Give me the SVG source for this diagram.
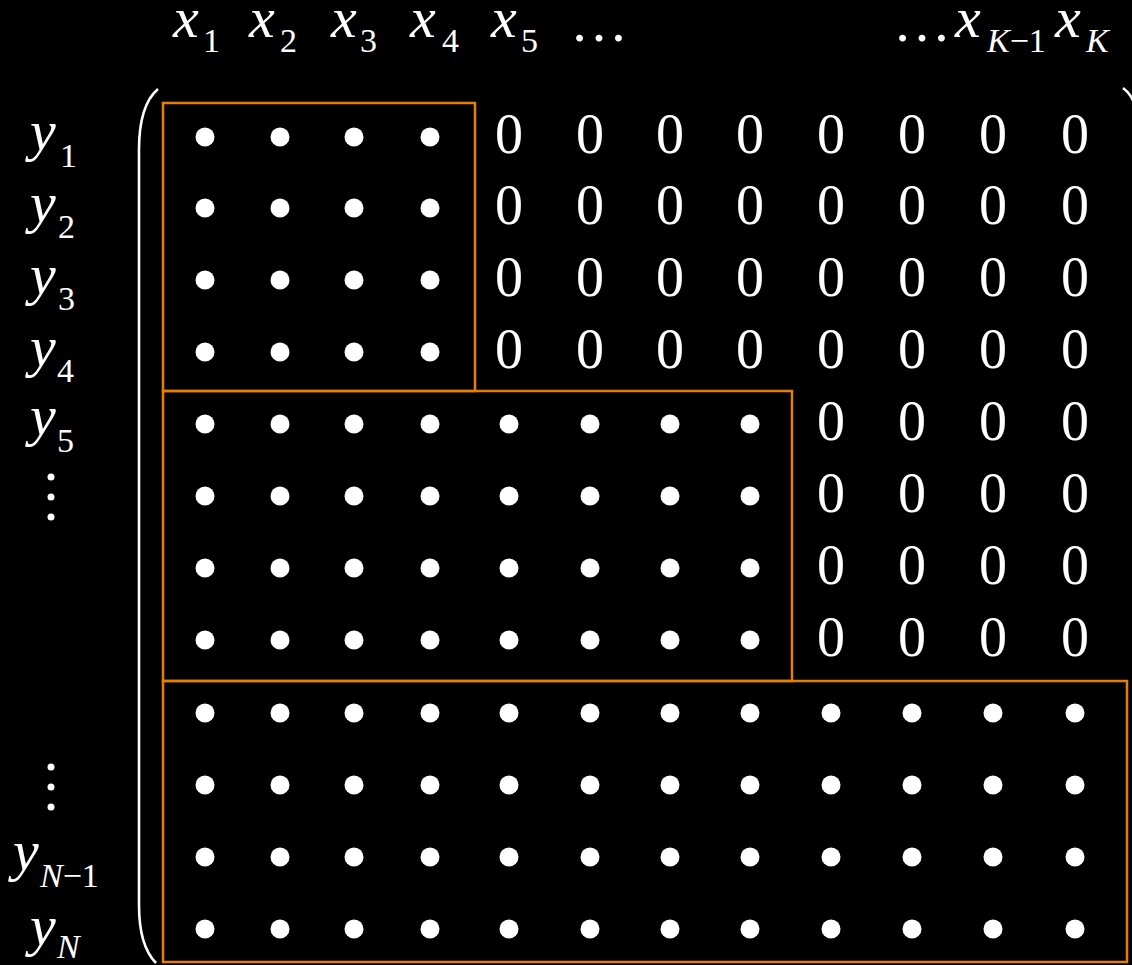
<svg xmlns="http://www.w3.org/2000/svg" width="1132" height="965" viewBox="0 0 1132 965">
<style>
text{font-family:'Liberation Serif','DejaVu Serif',serif;fill:#fff}
.v{font-style:italic;font-size:58px}
.s{font-size:34px}
.si{font-style:italic}
.z{font-size:56px;text-anchor:middle}
.e{font-size:58px}
.box{fill:none;stroke:#e67e00;stroke-width:2.5}
.br{fill:none;stroke:#fff;stroke-width:2.6}
</style>
<defs><circle id="d" r="9.5" fill="#fff"/><circle id="vd" r="3.5" fill="#fff"/></defs>
<rect width="1132" height="965" fill="#000"/>
<g id="col-labels">
<text class="v" x="173" y="37">x</text><text class="s" x="203" y="52">1</text>
<text class="v" x="249" y="37">x</text><text class="s" x="280" y="52">2</text>
<text class="v" x="331" y="37">x</text><text class="s" x="360" y="52">3</text>
<text class="v" x="410" y="37">x</text><text class="s" x="442" y="52">4</text>
<text class="v" x="491" y="37">x</text><text class="s" x="521" y="52">5</text>
<text class="e" x="570" y="41">…</text>
<text class="e" x="893" y="41">…</text>
<text class="v" x="955" y="37">x</text><text class="s" x="987" y="52"><tspan class="si">K</tspan>−1</text>
<text class="v" x="1055" y="37">x</text><text class="s si" x="1086" y="52">K</text>
</g>
<g id="row-labels">
<text class="v" x="30" y="150">y</text><text class="s" x="60" y="167">1</text>
<text class="v" x="30" y="222">y</text><text class="s" x="58" y="238">2</text>
<text class="v" x="30" y="294">y</text><text class="s" x="58" y="310">3</text>
<text class="v" x="30" y="366">y</text><text class="s" x="57" y="382">4</text>
<text class="v" x="30" y="435">y</text><text class="s" x="57" y="452">5</text>
<use href="#vd" x="51" y="477"/><use href="#vd" x="51" y="497"/><use href="#vd" x="51" y="517"/>
<use href="#vd" x="51" y="767"/><use href="#vd" x="51" y="787"/><use href="#vd" x="51" y="807"/>
<text class="v" x="13" y="870">y</text><text class="s" x="40" y="887"><tspan class="si">N</tspan>−1</text>
<text class="v" x="30" y="945">y</text><text class="s si" x="57" y="958">N</text>
</g>
<g id="brackets">
<path class="br" d="M158,89 C145,100 139,120 139,150 L139,905 C139,935 145,952 156,963"/>
<path class="br" d="M1123,88 C1130,93 1134,100 1136,110"/>
</g>
<g id="blocks">
<rect class="box" x="163" y="103" width="312" height="288"/>
<rect class="box" x="163" y="391" width="629" height="290"/>
<rect class="box" x="163" y="681" width="964" height="281"/>
</g>
<g id="cells">
<use href="#d" x="205" y="137"/><use href="#d" x="280" y="137"/><use href="#d" x="354" y="137"/><use href="#d" x="430" y="137"/>
<use href="#d" x="205" y="208"/><use href="#d" x="280" y="208"/><use href="#d" x="354" y="208"/><use href="#d" x="430" y="208"/>
<use href="#d" x="205" y="280"/><use href="#d" x="280" y="280"/><use href="#d" x="354" y="280"/><use href="#d" x="430" y="280"/>
<use href="#d" x="205" y="352"/><use href="#d" x="280" y="352"/><use href="#d" x="354" y="352"/><use href="#d" x="430" y="352"/>
<text class="z" x="509" y="153">0</text><text class="z" x="590" y="153">0</text><text class="z" x="670" y="153">0</text><text class="z" x="750" y="153">0</text><text class="z" x="831" y="153">0</text><text class="z" x="912" y="153">0</text><text class="z" x="993" y="153">0</text><text class="z" x="1075" y="153">0</text>
<text class="z" x="509" y="224">0</text><text class="z" x="590" y="224">0</text><text class="z" x="670" y="224">0</text><text class="z" x="750" y="224">0</text><text class="z" x="831" y="224">0</text><text class="z" x="912" y="224">0</text><text class="z" x="993" y="224">0</text><text class="z" x="1075" y="224">0</text>
<text class="z" x="509" y="296">0</text><text class="z" x="590" y="296">0</text><text class="z" x="670" y="296">0</text><text class="z" x="750" y="296">0</text><text class="z" x="831" y="296">0</text><text class="z" x="912" y="296">0</text><text class="z" x="993" y="296">0</text><text class="z" x="1075" y="296">0</text>
<text class="z" x="509" y="368">0</text><text class="z" x="590" y="368">0</text><text class="z" x="670" y="368">0</text><text class="z" x="750" y="368">0</text><text class="z" x="831" y="368">0</text><text class="z" x="912" y="368">0</text><text class="z" x="993" y="368">0</text><text class="z" x="1075" y="368">0</text>
<use href="#d" x="205" y="424"/><use href="#d" x="280" y="424"/><use href="#d" x="354" y="424"/><use href="#d" x="430" y="424"/><use href="#d" x="509" y="424"/><use href="#d" x="590" y="424"/><use href="#d" x="670" y="424"/><use href="#d" x="750" y="424"/>
<use href="#d" x="205" y="496"/><use href="#d" x="280" y="496"/><use href="#d" x="354" y="496"/><use href="#d" x="430" y="496"/><use href="#d" x="509" y="496"/><use href="#d" x="590" y="496"/><use href="#d" x="670" y="496"/><use href="#d" x="750" y="496"/>
<use href="#d" x="205" y="568"/><use href="#d" x="280" y="568"/><use href="#d" x="354" y="568"/><use href="#d" x="430" y="568"/><use href="#d" x="509" y="568"/><use href="#d" x="590" y="568"/><use href="#d" x="670" y="568"/><use href="#d" x="750" y="568"/>
<use href="#d" x="205" y="640"/><use href="#d" x="280" y="640"/><use href="#d" x="354" y="640"/><use href="#d" x="430" y="640"/><use href="#d" x="509" y="640"/><use href="#d" x="590" y="640"/><use href="#d" x="670" y="640"/><use href="#d" x="750" y="640"/>
<text class="z" x="831" y="440">0</text><text class="z" x="912" y="440">0</text><text class="z" x="993" y="440">0</text><text class="z" x="1075" y="440">0</text>
<text class="z" x="831" y="512">0</text><text class="z" x="912" y="512">0</text><text class="z" x="993" y="512">0</text><text class="z" x="1075" y="512">0</text>
<text class="z" x="831" y="584">0</text><text class="z" x="912" y="584">0</text><text class="z" x="993" y="584">0</text><text class="z" x="1075" y="584">0</text>
<text class="z" x="831" y="656">0</text><text class="z" x="912" y="656">0</text><text class="z" x="993" y="656">0</text><text class="z" x="1075" y="656">0</text>
<use href="#d" x="205" y="713"/><use href="#d" x="280" y="713"/><use href="#d" x="354" y="713"/><use href="#d" x="430" y="713"/><use href="#d" x="509" y="713"/><use href="#d" x="590" y="713"/><use href="#d" x="670" y="713"/><use href="#d" x="750" y="713"/><use href="#d" x="831" y="713"/><use href="#d" x="912" y="713"/><use href="#d" x="993" y="713"/><use href="#d" x="1075" y="713"/>
<use href="#d" x="205" y="785"/><use href="#d" x="280" y="785"/><use href="#d" x="354" y="785"/><use href="#d" x="430" y="785"/><use href="#d" x="509" y="785"/><use href="#d" x="590" y="785"/><use href="#d" x="670" y="785"/><use href="#d" x="750" y="785"/><use href="#d" x="831" y="785"/><use href="#d" x="912" y="785"/><use href="#d" x="993" y="785"/><use href="#d" x="1075" y="785"/>
<use href="#d" x="205" y="857"/><use href="#d" x="280" y="857"/><use href="#d" x="354" y="857"/><use href="#d" x="430" y="857"/><use href="#d" x="509" y="857"/><use href="#d" x="590" y="857"/><use href="#d" x="670" y="857"/><use href="#d" x="750" y="857"/><use href="#d" x="831" y="857"/><use href="#d" x="912" y="857"/><use href="#d" x="993" y="857"/><use href="#d" x="1075" y="857"/>
<use href="#d" x="205" y="929"/><use href="#d" x="280" y="929"/><use href="#d" x="354" y="929"/><use href="#d" x="430" y="929"/><use href="#d" x="509" y="929"/><use href="#d" x="590" y="929"/><use href="#d" x="670" y="929"/><use href="#d" x="750" y="929"/><use href="#d" x="831" y="929"/><use href="#d" x="912" y="929"/><use href="#d" x="993" y="929"/><use href="#d" x="1075" y="929"/>
</g>
</svg>
